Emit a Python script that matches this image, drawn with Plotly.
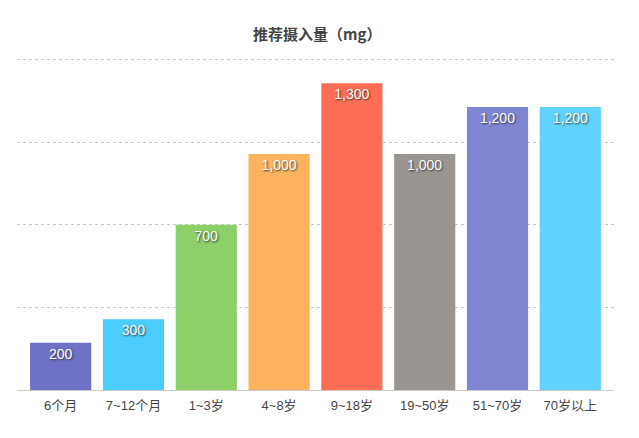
import plotly.graph_objects as go

categories = ["6个月", "7~12个月", "1~3岁", "4~8岁", "9~18岁", "19~50岁", "51~70岁", "70岁以上"]
values = [200, 300, 700, 1000, 1300, 1000, 1200, 1200]
colors = ["#6F71C6", "#4CCDFB", "#8DCF69", "#FDB35E", "#FF6D55", "#9A9590", "#7E86D2", "#60D2FB"]

font = "Liberation Sans, Noto Sans CJK SC, sans-serif"
cjk = "Noto Sans CJK SC, sans-serif"

fig = go.Figure(go.Bar(
    x=categories,
    y=values,
    marker=dict(color=colors, line=dict(width=0)),
    text=[f"{v:,}" for v in values],
    textposition="inside",
    insidetextanchor="end",
    textangle=0,
    textfont=dict(color="white", size=14, family=font, shadow="1px 1px 2px #333"),
    hoverinfo="x+y",
))

# page body adds an 8px offset, so the figure is 8px smaller each way
fig.update_layout(
    width=631,
    height=430,
    margin=dict(l=9, r=25, t=47, b=48),
    paper_bgcolor="white",
    plot_bgcolor="white",
    bargap=0.16,
    showlegend=False,
    font=dict(family=font, color="#444"),
    title=dict(
        text="推荐摄入量（mg）",
        x=0.49, xanchor="center", y=0.937, yanchor="middle",
        font=dict(size=15, color="#444", family=cjk, weight=600),
    ),
)
fig.update_xaxes(
    range=[-0.6, 7.6],
    showline=True, linecolor="#cccccc", linewidth=1,
    showgrid=False, ticks="",
    ticklabelstandoff=3,
    tickfont=dict(size=13, color="#444", family=font),
)
fig.update_yaxes(
    range=[0, 1420],
    dtick=350,
    showticklabels=False,
    showgrid=True, gridcolor="#c8c8c8", griddash="dot", gridwidth=1,
    zeroline=False,
)

fig.write_html("out.html")
